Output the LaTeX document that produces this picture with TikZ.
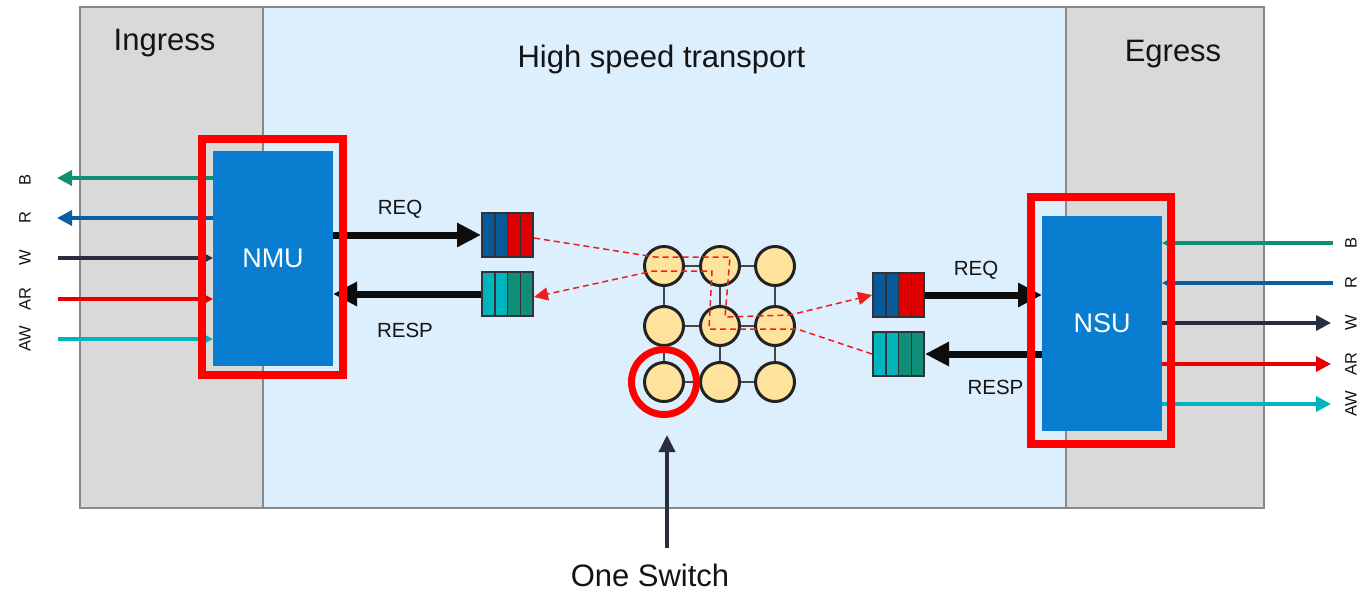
\documentclass[tikz,border=0pt]{standalone}
\usepackage{fontspec}
\setmainfont{Liberation Sans}
\usetikzlibrary{arrows.meta,calc}
\definecolor{panelgrey}{RGB}{217,217,217}
\definecolor{transblue}{RGB}{221,238,252}
\definecolor{bordergrey}{RGB}{137,137,137}
\definecolor{unitblue}{RGB}{9,126,208}
\definecolor{framered}{RGB}{255,0,0}
\definecolor{cB}{RGB}{17,142,118}
\definecolor{cR}{RGB}{11,94,160}
\definecolor{cW}{RGB}{40,45,66}
\definecolor{cAR}{RGB}{230,0,0}
\definecolor{cAW}{RGB}{0,180,190}
\definecolor{qblue}{RGB}{8,90,155}
\definecolor{qred}{RGB}{222,0,0}
\definecolor{qcyan}{RGB}{0,180,190}
\definecolor{qteal}{RGB}{16,142,120}
\definecolor{qborder}{RGB}{50,50,55}
\definecolor{swfill}{RGB}{255,226,155}
\definecolor{swborder}{RGB}{35,35,35}
\definecolor{gridgrey}{RGB}{70,70,70}
\definecolor{dashred}{RGB}{240,30,30}
\definecolor{txt}{RGB}{20,20,20}
\newcommand{\myqueue}[5]{%
  \foreach \i/\c in {0/#4,1/#4,2/#5,3/#5}{%
    \node[qcell, fill=\c] (#1-\i) at ({#2-19.125+\i*12.75},#3) {};}
  \node[qframe] (#1) at (#2,#3) {};}
\begin{document}
\begin{tikzpicture}[x=1pt,y=-1pt,
  panel/.style={draw=bordergrey, line width=2, inner sep=0, outer sep=0},
  unit/.style={fill=unitblue, inner sep=0, outer sep=0, minimum width=120, minimum height=215,
    text=white, font=\fontsize{27}{32}\selectfont},
  redframe/.style={draw=framered, line width=8, inner sep=0},
  bigtxt/.style={font=\fontsize{31}{36}\selectfont, text=txt},
  midtxt/.style={font=\fontsize{20.5}{24}\selectfont, text=txt},
  sidetxt/.style={font=\fontsize{16.5}{20}\selectfont, text=txt, rotate=90},
  qcell/.style={draw=qborder, line width=1.5, minimum width=12.75, minimum height=44, inner sep=0, outer sep=0},
  qframe/.style={draw=qborder, line width=2, minimum width=51, minimum height=44, inner sep=0},
  bigarrow/.style={line width=7, draw=black!95, -{Triangle[length=24pt,width=23pt]}},
  axi/.style={line width=3.5},
  bighead/.style={-{Triangle[length=15pt,width=15pt]}},
  smallhead/.style={-{Triangle[length=10pt,width=10pt]}},
  sw/.style={circle, draw=swborder, fill=swfill, line width=3, minimum size=39, inner sep=0},
  gridline/.style={draw=gridgrey, line width=2},
  dashedred/.style={draw=dashred, line width=1.5, dash pattern=on 6pt off 4pt, -{Triangle[length=14pt,width=13pt]}},
]
\useasboundingbox (0,0) rectangle (1360,590);

% panels
\node[panel, fill=transblue, minimum width=803, minimum height=501] (transport) at (664.5,257.5) {};
\node[panel, fill=panelgrey, minimum width=183, minimum height=501] (ingress) at (171.5,257.5) {};
\node[panel, fill=panelgrey, minimum width=198, minimum height=501] (egress) at (1165,257.5) {};
\node[bigtxt, anchor=base] (ingtxt) at (164.5,50) {Ingress};
\node[bigtxt, anchor=base] (egrtxt) at (1173,61) {Egress};
\node[bigtxt, anchor=base] (trtxt) at (661.5,67) {High speed transport};

% units
\node[unit] (nmu) at (273,258.5) {NMU};
\node[unit] (nsu) at (1102,323.5) {NSU};

% left AXI channels
\coordinate (bL) at (57,178);
\coordinate (rL) at (57,218);
\coordinate (wL) at (58,258);
\coordinate (arL) at (58,299);
\coordinate (awL) at (58,339);
\draw[axi, cB, bighead] (nmu.west |- bL) -- (bL);
\draw[axi, cR, bighead] (nmu.west |- rL) -- (rL);
\draw[axi, cW, smallhead] (wL) -- (nmu.west |- wL);
\draw[axi, cAR, smallhead] (arL) -- (nmu.west |- arL);
\draw[axi, cAW, smallhead] (awL) -- (nmu.west |- awL);
\node[sidetxt] (lbB) at (25,180) {B};
\node[sidetxt] (lbR) at (25,218) {R};
\node[sidetxt] (lbW) at (25,258) {W};
\node[sidetxt] (lbAR) at (25,299) {AR};
\node[sidetxt] (lbAW) at (25,339) {AW};

% right AXI channels
\coordinate (bR) at (1333,243);
\coordinate (rR) at (1333,283);
\coordinate (wR) at (1331,323);
\coordinate (arR) at (1331,364);
\coordinate (awR) at (1331,404);
\draw[axi, cB, smallhead] (bR) -- (nsu.east |- bR);
\draw[axi, cR, smallhead] (rR) -- (nsu.east |- rR);
\draw[axi, cW, bighead] (nsu.east |- wR) -- (wR);
\draw[axi, cAR, bighead] (nsu.east |- arR) -- (arR);
\draw[axi, cAW, bighead] (nsu.east |- awR) -- (awR);
\node[sidetxt] (rbB) at (1351,243) {B};
\node[sidetxt] (rbR) at (1351,283) {R};
\node[sidetxt] (rbW) at (1351,323) {W};
\node[sidetxt] (rbAR) at (1351,364) {AR};
\node[sidetxt] (rbAW) at (1351,404) {AW};

% queues
\myqueue{qL}{507.5}{235}{qblue}{qred}
\myqueue{qrL}{507.5}{294}{qcyan}{qteal}
\myqueue{qR}{898.5}{295}{qblue}{qred}
\myqueue{qrR}{898.5}{354}{qcyan}{qteal}

% REQ / RESP arrows
\draw[bigarrow] (nmu.east |- qL.west) -- (qL.west);
\draw[bigarrow] (qrL.west) -- (nmu.east |- qrL.west);
\draw[bigarrow] (qR.east) -- (nsu.west |- qR.east);
\draw[bigarrow] (nsu.west |- qrR.east) -- (qrR.east);
\node[midtxt] (reqL) at (400,209) {REQ};
\node[midtxt] (respL) at (405,330.5) {RESP};
\node[midtxt] (reqR) at (976,270) {REQ};
\node[midtxt] (respR) at (995.5,387) {RESP};

% red frames
\node[redframe, minimum width=141, minimum height=236] (nmuframe) at (272.5,257) {};
\node[redframe, minimum width=140, minimum height=247] (nsuframe) at (1101,320.5) {};

% switch grid
\node[sw] (s11) at (664,266) {};
\node[sw] (s12) at (720,266) {};
\node[sw] (s13) at (775,266) {};
\node[sw] (s21) at (664,326) {};
\node[sw] (s22) at (720,326) {};
\node[sw] (s23) at (775,326) {};
\node[sw] (s31) at (664,382) {};
\node[sw] (s32) at (720,382) {};
\node[sw] (s33) at (775,382) {};
\draw[gridline] (s11)--(s12) (s12)--(s13) (s21)--(s22) (s22)--(s23) (s31)--(s32) (s32)--(s33)
  (s11)--(s21) (s21)--(s31) (s12)--(s22) (s22)--(s32) (s13)--(s23) (s23)--(s33);

% highlight
\node[circle, draw=framered, line width=7, minimum size=65, inner sep=0] (hl) at (s31) {};

% dashed routes
\draw[dashedred] ([yshift=-3pt]qL.east) -- ([shift={(-9,-9)}]s11.center) -- ([shift={(10,-9)}]s12.center)
  -- ([shift={(5,-9)}]s22.center) -- ([shift={(15,-11)}]s23.center) -- (qR.west);
\draw[dashedred] (qrR.west) -- ([shift={(22,3)}]s23.center) -- ([shift={(-11,3)}]s22.center)
  -- ([shift={(-8,5)}]s12.center) -- ([shift={(-11,5)}]s11.center) -- ([yshift=-3pt]qrL.east);

% one switch
\coordinate (swtail) at (667,548);
\draw[line width=3.5, draw=cW, -{Triangle[length=17pt,width=16pt]}, shorten >=17pt] (swtail) -- (swtail |- hl.south);
\node[bigtxt, anchor=base] (onesw) at (650,586) {One Switch};
\end{tikzpicture}
\end{document}
